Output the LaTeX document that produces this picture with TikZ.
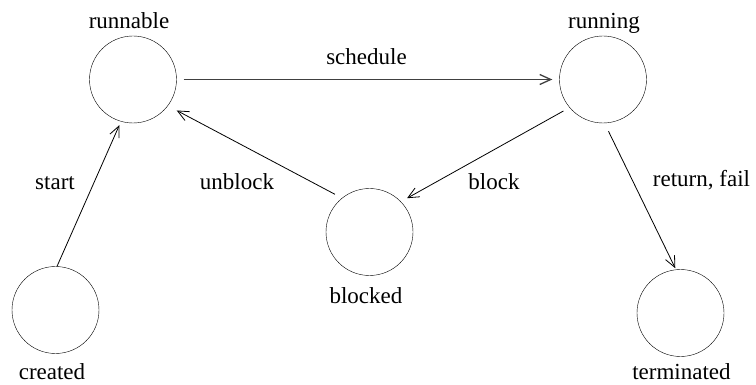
\documentclass[tikz,border=0pt]{standalone}
\usepackage{fontspec}
\setmainfont{Liberation Serif}
\usetikzlibrary{arrows.meta}
\tikzset{
  state/.style={draw, circle, minimum size=87pt, inner sep=0pt},
  statename/.style={anchor=base, font=\fontsize{23}{26}\selectfont},
  trans/.style={-{Straight Barb[length=11pt, width=10pt]}, line width=0.8pt},
}

\begin{document}
\begin{tikzpicture}[x=1pt, y=-1pt]
		\useasboundingbox (0,0) rectangle (756,385);

		% states
		\node[state] (runnable) at (133,79.5) {};
		\node[state] (running) at (603,79.5) {};
		\node[state] (blocked) at (369.5,232) {};
		\node[state] (created) at (55.5,310) {};
		\node[state] (terminated) at (680.5,313) {};

		\node[statename] (trunnable) at (129,29) {runnable};
		\node[statename] (trunning) at (604,29) {running};
		\node[statename] (tblocked) at (366,303) {blocked};
		\node[statename] (tcreated) at (52,379) {created};
		\node[statename] (tterminated) at (681.5,379) {terminated};

		% transitions
		\draw[trans, line width=1.3pt, black!75, shorten <=7pt, shorten >=7pt] (runnable.0) -- (running.180);
		\draw[trans, shorten >=4pt] (created.88) -- (runnable.254);
		\draw[trans, shorten <=8pt, shorten >=10pt] (blocked.129) -- (runnable.323);
		\draw[trans, shorten <=7pt, shorten >=7pt] (running.220) -- (blocked.44);
		\draw[trans, shorten <=9pt, shorten >=1.5pt] (running.272) -- (terminated.96);

		\node[statename] (lschedule) at (366.5,65) {schedule};
		\node[statename] (lstart) at (55,190) {start};
		\node[statename] (lunblock) at (237,190) {unblock};
		\node[statename] (lblock) at (494,190) {block};
		\node[statename] (lreturn) at (701.5,187) {return, fail};
	\end{tikzpicture}
\end{document}
